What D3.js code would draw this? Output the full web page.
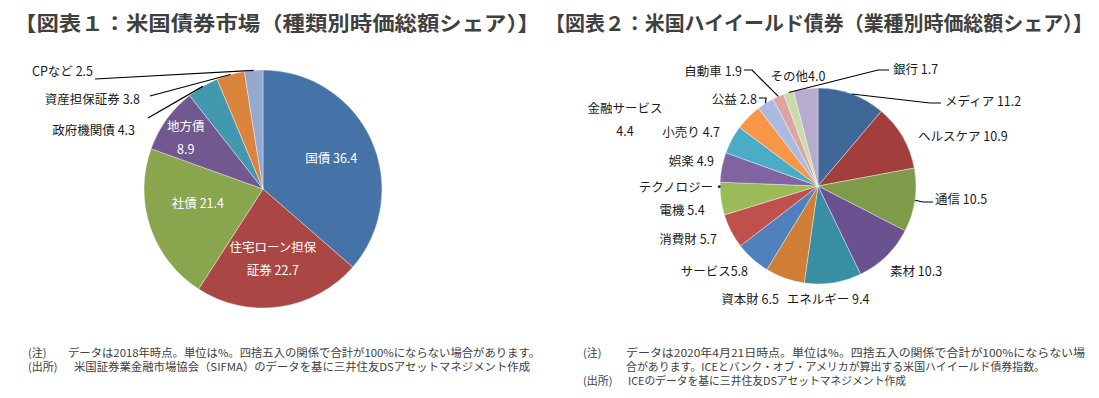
<!DOCTYPE html>
<html>
<head>
<meta charset="utf-8">
<script src="https://cdn.jsdelivr.net/npm/d3@7"></script>
<style>
body{margin:0;background:#fff;font-family:"Noto Sans CJK JP","Noto Sans",sans-serif;}
svg text{font-family:"Noto Sans CJK JP","Noto Sans",sans-serif;}
</style>
</head>
<body>
<div id="chart"></div>
<script>
// data
const bondTypes=["国債","住宅ローン担保証券","社債","地方債","政府機関債","資産担保証券","CPなど"];
const bondShares=[36.4,22.7,21.4,8.9,4.3,3.8,2.5];
const hyIndustries=["メディア","ヘルスケア","通信","素材","エネルギー","資本財","サービス","消費財","テクノロジー・電機","娯楽","小売り","金融サービス","公益","自動車","銀行","その他"];
const hyShares=[11.2,10.9,10.5,10.3,9.4,6.5,5.8,5.7,5.4,4.9,4.7,4.4,2.8,1.9,1.7,4.0];
const titles=["【図表１：米国債券市場（種類別時価総額シェア）】","【図表２：米国ハイイールド債券（業種別時価総額シェア）】"];
const notes1=[["(注)","データは2018年時点。単位は%。四捨五入の関係で合計が100%にならない場合があります。"],["(出所)","米国証券業金融市場協会（SIFMA）のデータを基に三井住友DSアセットマネジメント作成"]];
const notes2=[["(注)","データは2020年4月21日時点。単位は%。四捨五入の関係で合計が100%にならない場"],["","合があります。ICEとバンク・オブ・アメリカが算出する米国ハイイールド債券指数。"],["(出所)","ICEのデータを基に三井住友DSアセットマネジメント作成"]];

// styles / layout
const pal1=["#4572a7","#aa4643","#89a54e","#71588f","#4198af","#db843d","#93a9cf"];
const pal2=["#3f6797","#a23f3c","#7f9b49","#6a5190","#3a8ea4","#d07e36","#4f81bd","#c0504d","#9bbb59","#8064a2","#4bacc6","#f79646","#a9bbe0","#dca4a3","#c9dba7","#b7abcf"];
// inside labels: k = centroid radius factor, n = nudge; outside: p = anchor rel. to centre, ld = leader points
const lay1=[
  {k:.63,n:[0,0],in:1},
  {k:.585,n:[0,0],in:1,br:7},
  {k:.56,n:[-2,-8],in:1},
  {k:.78,n:[-2,2],in:1,br:3,sep:""},
  {p:[-128,-60],a:"end",ld:[[-115,-71]]},
  {p:[-123,-91],a:"end",ld:[[-113,-93]]},
  {p:[-170,-119],a:"end",ld:[[-168,-110]]}
];
const lay2=[
  {p:[127,-86],a:"start",ld:[[112,-83],[123,-83]]},
  {p:[100,-51],a:"start"},
  {p:[117,12],a:"start",ld:[[105,16],[115,16]]},
  {p:[72,84],a:"start"},
  {p:[10,112],a:"middle"},
  {p:[-68,112],a:"middle"},
  {p:[-70,84],a:"end",sep:""},
  {p:[-101,52],a:"end"},
  {p:[-136,12],a:"middle",br:7},
  {p:[-104,-26],a:"end"},
  {p:[-98,-55],a:"end"},
  {p:[-193,-67],a:"middle",br:6,sep:""},
  {p:[-61,-88],a:"end",ld:[[-52,-88],[-59,-88]]},
  {p:[-76,-116],a:"end",ld:[[-66,-116],[-74,-116]]},
  {p:[75,-118],a:"start",ld:[[60,-116],[71,-116]]},
  {p:[-20,-111],a:"middle",sep:""}
];

const W=1099,H=398;
const svg=d3.select("#chart").append("svg").attr("width",W).attr("height",H);

// titles
[[14,526],[545,548]].forEach(([x,len],i)=>{
  svg.append("text").attr("x",x).attr("y",22).attr("dominant-baseline","central")
    .attr("font-size",20).attr("font-weight","bold").attr("fill","#404040")
    .attr("textLength",len).attr("lengthAdjust","spacingAndGlyphs").text(titles[i]);
});

function drawPie(cats,vals,pal,lay,cx,cy,r){
  const data=cats.map((c,i)=>({cat:c,val:vals[i],lay:lay[i],color:pal[i]}));
  const pie=d3.pie().sort(null).value(d=>d.val);
  const arc=d3.arc().innerRadius(0).outerRadius(r);
  const rim=d3.arc().innerRadius(r).outerRadius(r);
  const g=svg.append("g").attr("transform",`translate(${cx},${cy})`);
  const arcs=pie(data);
  g.selectAll("path").data(arcs).join("path")
    .attr("d",arc).attr("fill",d=>d.data.color)
    .attr("stroke","rgba(255,255,255,.55)").attr("stroke-width",.7);
  // leader lines
  g.selectAll(".leader").data(arcs.filter(d=>d.data.lay.ld)).join("polyline")
    .attr("points",d=>[rim.centroid(d),...d.data.lay.ld].map(p=>p.join(",")).join(" "))
    .attr("fill","none").attr("stroke","#000").attr("stroke-width",1.2);
  // labels
  arcs.forEach(d=>{
    const L=d.data.lay,sep=L.sep===undefined?" ":L.sep,v=d3.format(".1f")(d.data.val);
    const lines=L.br?[d.data.cat.slice(0,L.br),d.data.cat.slice(L.br)+(L.br<d.data.cat.length?sep:"")+v]
                    :[d.data.cat+sep+v];
    let x,y,anchor;
    if(L.in){
      const a=(d.startAngle+d.endAngle)/2,rr=r*L.k;
      x=Math.sin(a)*rr+L.n[0];y=-Math.cos(a)*rr+L.n[1];anchor="middle";
    }else{x=L.p[0];y=L.p[1];anchor=L.a;}
    const lh=L.in?23:22.5;
    const t=g.append("text").attr("text-anchor",anchor).attr("font-size",12.5)
      .attr("fill",L.in?"#fff":"#1a1a1a");
    lines.forEach((s,j)=>{
      t.append("tspan").attr("x",x).attr("y",y+(j-(lines.length-1)/2)*lh)
        .attr("dominant-baseline","central").text(s);
    });
  });
}

drawPie(bondTypes,bondShares,pal1,lay1,263,189,119);
drawPie(hyIndustries,hyShares,pal2,lay2,818,186,98);

// notes
function drawNotes(rows,x0,x1,lens){
  rows.forEach((r,i)=>{
    const y=352+i*14;
    svg.append("text").attr("x",x0).attr("y",y).attr("dominant-baseline","central")
      .attr("font-size",11).attr("fill","#404040").text(r[0]);
    svg.append("text").attr("x",x1[i]).attr("y",y).attr("dominant-baseline","central")
      .attr("font-size",11).attr("fill","#404040")
      .attr("textLength",lens[i]).attr("lengthAdjust","spacingAndGlyphs").text(r[1]);
  });
}
drawNotes(notes1,28,[68,74],[472,456]);
drawNotes(notes2,583,[626,626,628],[459,419,278]);
</script>
</body>
</html>
